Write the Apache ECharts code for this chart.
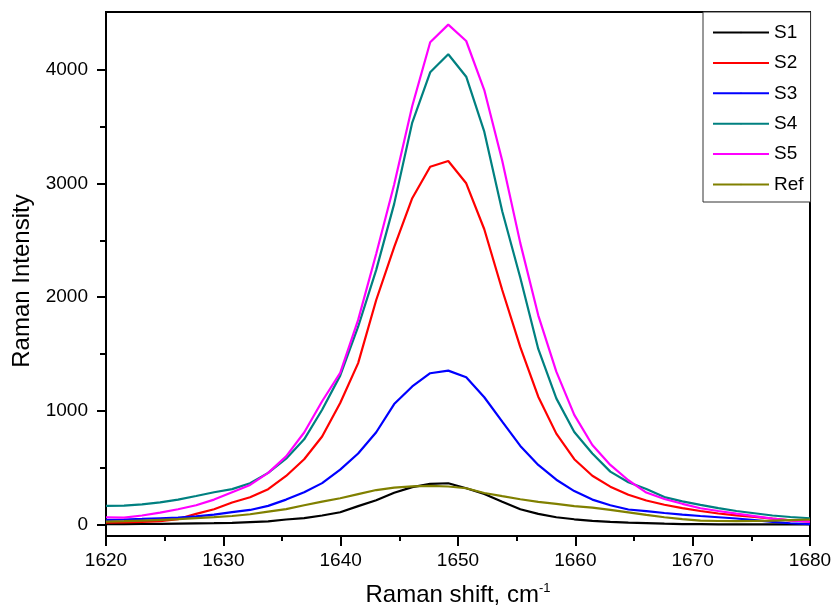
<!DOCTYPE html>
<html>
<head>
<meta charset="utf-8">
<script src="https://cdn.jsdelivr.net/npm/echarts@6/dist/echarts.min.js"></script>
<style>
  html, body { margin: 0; padding: 0; background: #ffffff; }
  #chart { width: 833px; height: 605px; }
</style>
</head>
<body>
<div id="chart"></div>
<script>
// Raman shift (cm^-1)
var shift = [1620.00, 1621.54, 1623.07, 1624.61, 1626.14, 1627.68, 1629.21, 1630.75, 1632.28, 1633.82,
             1635.35, 1636.89, 1638.42, 1639.96, 1641.49, 1643.03, 1644.56, 1646.10, 1647.63, 1649.17,
             1650.70, 1652.24, 1653.77, 1655.31, 1656.84, 1658.38, 1659.91, 1661.45, 1662.98, 1664.52,
             1666.05, 1667.59, 1669.12, 1670.66, 1672.19, 1673.73, 1675.26, 1676.80, 1678.33, 1680.00];

var s1 = [5, 5, 6, 7, 9, 11, 13, 16, 22, 28,
          45, 57, 80, 109, 163, 215, 280, 330, 358, 364,
          320, 270, 202, 135, 94, 65, 47, 33, 24, 18,
          14, 8, 5, 4, 3, 3, 2, 2, 2, 2];
var s2 = [18, 20, 24, 30, 48, 95, 135, 195, 241, 312,
          428, 575, 775, 1070, 1420, 1975, 2440, 2870, 3147, 3197,
          3001, 2597, 2063, 1560, 1125, 800, 575, 430, 334, 262,
          212, 175, 145, 120, 98, 82, 67, 52, 38, 26];
var s3 = [41, 45, 50, 56, 62, 72, 88, 110, 129, 165,
          220, 285, 365, 483, 625, 812, 1060, 1215, 1331, 1354,
          1296, 1120, 905, 692, 525, 395, 295, 220, 170, 133,
          118, 102, 88, 76, 65, 54, 40, 25, 12, 5];
var s4 = [164, 167, 178, 195, 220, 252, 285, 312, 364, 455,
          580, 750, 1010, 1310, 1740, 2240, 2820, 3535, 3977, 4135,
          3938, 3455, 2755, 2170, 1545, 1110, 815, 625, 466, 372,
          314, 242, 205, 173, 145, 120, 100, 80, 67, 56];
var s5 = [65, 62, 80, 105, 135, 170, 220, 285, 349, 455,
          600, 810, 1085, 1334, 1800, 2382, 2990, 3680, 4241, 4396,
          4252, 3821, 3200, 2475, 1840, 1345, 965, 700, 525, 390,
          282, 225, 183, 144, 120, 97, 75, 52, 38, 26];
var ref = [26, 30, 36, 42, 48, 58, 66, 76, 91, 115,
           136, 170, 202, 232, 268, 304, 326, 337, 340, 335,
           320, 278, 250, 223, 200, 182, 162, 150, 130, 108,
           85, 65, 48, 35, 32, 31, 32, 35, 40, 45];

var seriesNames = ['S1', 'S2', 'S3', 'S4', 'S5', 'Ref'];
var seriesValues = [s1, s2, s3, s4, s5, ref];
var seriesColors = ['#000000', '#ff0000', '#0000ff', '#008080', '#ff00ff', '#808000'];

var xTicks = [1620, 1630, 1640, 1650, 1660, 1670, 1680];
var xMinorTicks = [1625, 1635, 1645, 1655, 1665, 1675];
var yTicks = [0, 1000, 2000, 3000, 4000];
var yMinorTicks = [500, 1500, 2500, 3500];

var FONT = '"Liberation Sans", Arial, sans-serif';

function pairs(ys) {
  var out = [];
  for (var i = 0; i < shift.length; i++) out.push([shift[i], ys[i]]);
  return out;
}

var series = seriesNames.map(function (n, k) {
  return {
    name: n,
    type: 'line',
    data: pairs(seriesValues[k]),
    symbol: 'none',
    showSymbol: false,
    legendIcon: 'rect',
    smooth: false,
    lineStyle: { color: seriesColors[k], width: 2.2 },
    itemStyle: { color: seriesColors[k] },
    emphasis: { disabled: true },
    animation: false,
    xAxisIndex: 0,
    yAxisIndex: 0
  };
});

function plain(v) { return String(v); }

var chart = echarts.init(document.getElementById('chart'), null, { renderer: 'canvas' });
chart.setOption({
  backgroundColor: '#ffffff',
  animation: false,
  grid: {
    left: 106, top: 12, right: 23, bottom: 69,
    show: true, borderColor: '#000000', borderWidth: 2, backgroundColor: '#ffffff',
    containLabel: false,
    outerBoundsMode: 'none'
  },
  legend: {
    show: true,
    data: seriesNames,
    orient: 'vertical',
    left: 703, top: 12,
    itemWidth: 56, itemHeight: 2, itemGap: 11.4,
    padding: [11, 7, 8, 9],
    backgroundColor: '#ffffff',
    borderColor: '#333333', borderWidth: 1,
    textStyle: { fontSize: 19, color: '#000000', fontFamily: FONT },
    selectedMode: false
  },
  xAxis: [{
    type: 'value',
    min: 1620, max: 1680, interval: 10,
    name: 'Raman shift, cm{sup|-1}',
    nameLocation: 'middle',
    nameGap: 46,
    nameTextStyle: {
      fontSize: 24, color: '#000000', fontFamily: FONT,
      rich: { sup: { fontSize: 13, color: '#000000', fontFamily: FONT, verticalAlign: 'top', padding: [0, 0, 14, 0] } }
    },
    axisLine: { show: true, onZero: false, lineStyle: { color: '#000000', width: 2 } },
    axisTick: { show: true, inside: false, length: 10, customValues: xTicks, lineStyle: { color: '#000000', width: 2 } },
    axisLabel: {
      show: true, margin: 15, fontSize: 19, color: '#000000', fontFamily: FONT,
      customValues: xTicks, formatter: plain
    },
    splitLine: { show: false }
  }, {
    type: 'value',
    position: 'bottom',
    min: 1620, max: 1680,
    axisLine: { show: false, onZero: false },
    axisTick: { show: true, inside: false, length: 5, customValues: xMinorTicks, lineStyle: { color: '#000000', width: 2 } },
    axisLabel: { show: false },
    splitLine: { show: false }
  }],
  yAxis: [{
    type: 'value',
    min: -100, max: 4507,
    name: 'Raman Intensity',
    nameLocation: 'middle',
    nameGap: 67,
    nameRotate: 90,
    nameTextStyle: { fontSize: 24, color: '#000000', fontFamily: FONT, padding: [0, 14, 0, 0] },
    axisLine: { show: true, onZero: false, lineStyle: { color: '#000000', width: 2 } },
    axisTick: { show: true, inside: false, length: 9, customValues: yTicks, lineStyle: { color: '#000000', width: 2 } },
    axisLabel: { show: true, margin: 18, fontSize: 19, color: '#000000', fontFamily: FONT, customValues: yTicks, formatter: plain },
    splitLine: { show: false }
  }, {
    type: 'value',
    position: 'left',
    min: -100, max: 4507,
    axisLine: { show: false, onZero: false },
    axisTick: { show: true, inside: false, length: 6, customValues: yMinorTicks, lineStyle: { color: '#000000', width: 2 } },
    axisLabel: { show: false },
    splitLine: { show: false }
  }],
  series: series
});
</script>
</body>
</html>
